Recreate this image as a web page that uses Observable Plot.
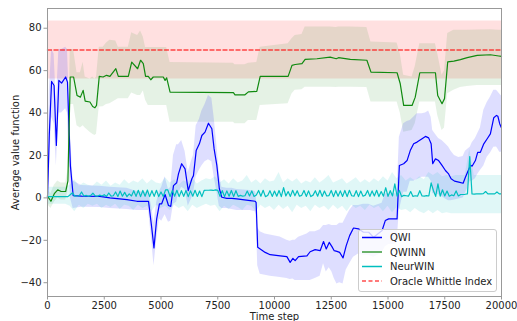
<!DOCTYPE html>
<html>
<head>
<meta charset="utf-8">
<script src="https://cdn.jsdelivr.net/npm/d3@7"></script>
<script src="https://cdn.jsdelivr.net/npm/@observablehq/plot@0.6"></script>
<style>
  html, body { margin: 0; padding: 0; background: #fff; }
  #chart { width: 517px; height: 321px; position: relative; }
</style>
</head>
<body>
<div id="chart"></div>
<script>
// ---------------- data ----------------
const seriesNames = ["QWI", "QWINN", "NeurWIN", "Oracle Whittle Index"];
const xTicks = [0, 2500, 5000, 7500, 10000, 12500, 15000, 17500, 20000];
const yTicks = [-40, -20, 0, 20, 40, 60, 80];

// QWI (blue)
const qwiX  = [0,80,180,290,390,500,620,800,880,940,1010,1130,1500,2300,2750,3500,3940,4450,4590,4690,4810,4930,5030,5180,5330,5430,5550,5690,5770,5910,6060,6200,6360,6430,6550,6690,6800,6940,7090,7240,7340,7460,7570,7680,7900,8120,8340,8930,9150,9190,9260,9370,9590,9810,10250,10545,10690,10810,10910,11060,11430,11570,11790,12010,12160,12280,12410,12530,12630,12750,12870,13020,13160,13310,13480,13700,13920,14150,14370,14740,14880,15030,15250,15400,15500,15690,15840,15980,16130,16280,16500,16650,16790,16900,16970,17090,17230,17380,17530,17670,17780,17930,18120,18310,18410,18630,18710,18850,18950,19070,19220,19370,19510,19660,19780,19840,19920,20000];
const qwiY  = [0.3,30,54.9,53,24.7,55.4,54.1,57,54.6,35,15,1.1,0.8,0.7,0,-0.8,-1.6,-1.6,-13.9,-23.6,-9.9,-2.8,-2.8,1.6,-3.6,-4,5.8,7.1,11.3,16.1,13.7,3.4,9,10.5,22.3,25.5,29.4,31,35.2,32.6,23.1,15.3,4.3,0.3,-0.2,-0.2,-0.5,-1.3,-1.6,-2.1,-23.3,-24.1,-25.7,-26.8,-27.3,-27.7,-30.4,-28.5,-29.6,-27.7,-27.3,-25.4,-24.4,-24.9,-20.6,-24.1,-21,-23,-24.9,-25.2,-25.7,-28.3,-22.5,-17.8,-14.2,-14.6,-16.2,-16.2,-18.6,-15.4,-10.7,-9.9,-9.9,-9.9,15.3,16.1,17.6,22.3,25.5,26.3,27.9,29,28.3,25.5,16.1,18.4,17.6,15.3,12.9,11.3,9,7.9,7.4,6.9,9.7,15.3,15,17.6,21.5,21.5,25.5,27.9,30.2,37.8,38.9,38.5,35,33];
const qwiLo = [-3,10,38,35,15,40,40,42,40,18,0,-5,-4.4,-4.5,-5,-5.5,-6,-6,-20,-32,-20,-10,-11,-8,-11.5,-11,-3,-2,2,5,4,-4,0,2,10,13,15,17,18,17,10,3,-4,-5,-5,-5.5,-6,-6,-6.5,-8,-32,-36,-36.5,-37,-37.5,-38,-38.5,-38.3,-39,-39,-39,-39,-38,-37,-31,-35,-33,-35,-38,-40.6,-40,-40.6,-34,-31,-28,-26.5,-27,-27,-28,-26,-23,-22,-22,-21,-6,2.6,2.6,7.9,7.9,8.5,9.7,9.7,9.7,8,1.9,1.9,1.5,0.5,-0.5,-1.3,-1.3,-1,-0.5,0,2,7.9,7.9,9,11,12.9,15,19.2,21,23.9,24,23,21.5,21.5];
const qwiHi = [5,50,70,68,45,70,70,71,70,52,30,8,5.8,5.5,5,4.5,3,2.5,-4,-12,-2,3,5,10,4,5,20,25,25,27,22,12,18,20,34,37,41,44,48.3,47,38,25,12,5,4.5,4.5,4,3.5,3,2,-14,-16,-17,-17.5,-18.5,-20,-20.5,-20,-20,-18.6,-17,-16,-16,-15,-13,-13,-12.5,-13,-13,-13,-12,-12,-9,-6,-3.6,-3.6,-3,-3,-4,-2.5,1.9,2,2,2,28.6,35,36,36.5,38,39.7,39.7,40,41,38,31.8,30,28,27,25.5,24,22,20,19,19.5,22,24,26,28,30.2,33,41.3,45,47.5,50.7,50.7,50,49,48];

// QWINN (green)
const qwinnX  = [0,150,300,450,600,800,900,1000,1150,1300,1450,1570,1660,1870,1990,2090,2160,2280,2450,2600,2750,3010,3120,3560,3710,3970,4100,4220,4320,4440,4550,4660,5100,5180,5250,5400,8190,8260,8700,8850,9220,9370,10600,10770,10910,11210,11350,11870,12450,12720,12820,13340,14070,14250,15400,15540,15690,16060,16200,16400,17090,17190,17380,17490,17630,17900,18190,18490,18930,19510,19880,20000];
const qwinnY  = [0.8,-1.6,2,3.8,3,3,8,57,57,48.3,47.5,50.7,45.6,45.2,43.1,42.5,43.6,57.3,57,57.8,57.3,60.9,57.3,57.3,64,60.9,64.9,63.3,57.3,57.3,55.7,57,57,55.4,56.6,49.9,49.6,48.6,48.6,50,50.2,57.3,57.3,62.5,62.9,63.3,65.3,65.6,66.4,65.6,66.1,65.3,64.9,59.3,59,53.8,43.6,43.6,47.5,59,59,48.3,44.4,46.8,64.1,64.5,65.2,66.1,67.2,67.5,66.9,66.7];
const qwinnLo = [-3,-5,-2,0,-1,-1,3,44,44,34,33,34,33,31,30,29.4,30,42.8,43,44,44.4,46,46.8,46.8,49.4,48.3,48.3,50.4,46,43.6,43.6,43.6,43.6,43.6,43.6,35.7,35.7,35,35,36.5,36.5,43.6,44.4,49,50.7,51,52.2,52.2,52.2,52,52.2,52.2,52,45.2,45.2,40,31,31.8,35,45.2,45.2,38.9,31.8,33,49.1,50.7,52,52.5,53,53,53,53];
const qwinnHi = [4,2,6,8,7,7,13,70,70,59,59,64,57,56,57,56,57,71,71,73,74.3,74,71,71,77.9,76.6,78.7,75.9,70.9,70.9,70.9,70.9,70.9,70.9,70.9,63.8,63.5,62.8,62.8,63.5,63.8,71,72.7,75,76.6,77,80.6,80.6,80.6,80.4,80.6,80.6,80.3,73.5,73,68,57.8,57,62,72.7,72.7,68,57.8,60,77.5,79,79,79,79.2,79.3,79,79];

// NeurWIN (cyan): mean every 100 steps, band every 200 steps
const neurY = [
  0.6,0.6,0.6,0.6,0.6,0.6,0.6,0.6,0.6,0.6,
  1.5,2.4,0.8,0.9,1.0,2.8,0.9,1.2,0.8,1.1,
  2.2,0.9,0.8,1.3,0.9,1.5,0.7,2.3,0.8,1.0,
  2.8,0.6,3.2,0.8,2.6,0.6,1.9,0.9,3.4,0.7,
  3.6,0.6,3.5,0.8,3.7,0.6,3.4,0.7,3.6,0.6,
  2.8,0.7,3.8,3.8,0.6,3.5,0.8,3.6,0.6,3.4,
  0.7,3.5,0.6,3.3,0.8,3.6,0.7,3.2,0.6,3.5,
  3.6,3.6,3.7,3.5,3.8,3.6,0.7,3.4,0.6,3.3,
  0.8,3.5,0.6,3.4,0.7,1.2,0.8,1.0,3.2,0.9,
  3.3,0.7,1.4,3.5,0.8,3.6,0.6,1.1,3.4,0.7,
  3.2,0.8,3.5,0.6,4.8,0.9,3.0,0.7,3.6,1.0,
  3.4,0.8,1.2,3.5,0.7,3.3,0.6,1.3,3.4,0.8,
  3.6,0.7,3.2,0.9,1.1,3.5,0.6,3.4,0.8,3.3,
  0.7,3.5,0.6,3.6,1.0,0.8,3.4,0.6,3.2,0.8,
  1.3,3.5,0.7,3.3,0.9,3.6,0.6,3.0,0.8,4.8,
  0.7,3.4,0.9,6.6,0.8,3.5,0.6,1.2,1.0,0.8,
  3.0,0.7,1.0,0.8,3.4,0.9,0.8,1.1,0.9,7.1,
  3.5,0.7,6.6,0.8,3.8,0.9,3.2,0.8,1.4,1.0,
  3.3,0.9,1.6,1.6,1.7,1.9,19.5,1.9,1.8,1.9,
  1.9,1.9,2.0,3.0,1.9,1.9,1.9,1.9,2.8,1.9,
  1.9
];
const neurHi = [
  5,5,5,5,5, 6,8.5,5.5,7,6, 5.5,7.5,6,8,5.5, 7,6,8.5,6.5,8, 7,9,6.5,8.5,7,
  6.5,9.5,7,8.5,6, 8,7,9,6.5,8, 9,8.5,10,7,8.5, 6.5,9,7,8,10.5, 7,8.5,6.5,9,7.5,
  8,12,7,9,7.5, 9,6.5,8,7,9.5, 7,8.5,10.5,7,8, 9,6.5,8,9.5,7, 8.5,7,9,7.5,10,
  8,12,9,10.5,8, 9.5,8,10,8.5,12, 10.5,12,10,10.5,10, 10.5,10.5,10.5,23,10.5,
  10.5,10.5,10.5,10.5,10.5, 10.5
];
const neurLo = [
  -3,-3,-3,-3,-3, -4,-6.5,-3.5,-5,-3, -4,-3,-5,-3.5,-4.5, -3,-5.5,-3.5,-4,-6, -3.5,-5,-4,-6.5,-3.5,
  -5,-4,-6,-3.5,-5, -4,-6.5,-3.5,-5,-4, -3,-4,-3.5,-6.5,-4, -5.5,-3.5,-4.5,-6,-3.5, -4,-6.5,-3.5,-5,-4,
  -6,-3.5,-5.5,-4,-7, -3.5,-5,-4,-6.5,-3.5, -5,-4,-6,-3.5,-5.5, -4,-6.5,-3.5,-5,-4, -6,-3.5,-5,-4,-6.5,
  -4,-7,-4.5,-6,-5.5, -7,-5,-6.5,-7.5,-6, -7.5,-6,-7.5,-7,-7.5, -7.5,-7.5,-7.5,-7.5,-7.5,
  -7.5,-7.5,-7.5,-7.5,-7.5, -7.5
];

// Oracle Whittle Index (red)
const oracleX  = [0, 20000];
const oracleY  = [69.7, 69.7];
const oracleLo = [56, 56];
const oracleHi = [83.4, 83.4];

// ---------------- tables ----------------
const qwi = qwiX.map((x, i) => ({x, y: qwiY[i], lo: qwiLo[i], hi: qwiHi[i]}));
const qwinn = qwinnX.map((x, i) => ({x, y: qwinnY[i], lo: qwinnLo[i], hi: qwinnHi[i]}));
const neur = neurY.map((y, i) => ({x: i * 100, y}));
const neurBand = neurHi.map((h, i) => ({x: i * 200, lo: neurLo[i], hi: h}));
const oracle = oracleX.map((x, i) => ({x, y: oracleY[i], lo: oracleLo[i], hi: oracleHi[i]}));

const colors = {QWI: "#0000ff", QWINN: "#108a10", NeurWIN: "#00bfbf", Oracle: "#ff0000"};

const chart = Plot.plot({
  width: 517,
  height: 321,
  marginLeft: 47,
  marginRight: 16,
  marginTop: 8,
  marginBottom: 25,
  style: {fontFamily: "DejaVu Sans, sans-serif", fontSize: "10px", color: "#222", background: "#fff"},
  x: {domain: [0, 20000]},
  y: {domain: [-46.5, 89.3]},
  marks: [
    Plot.areaY(oracle, {x: "x", y1: "lo", y2: "hi", fill: colors.Oracle, fillOpacity: 0.12}),
    Plot.areaY(qwinn, {x: "x", y1: "lo", y2: "hi", fill: "#008000", fillOpacity: 0.1}),
    Plot.areaY(qwi, {x: "x", y1: "lo", y2: "hi", fill: colors.QWI, fillOpacity: 0.13}),
    Plot.areaY(neurBand, {x: "x", y1: "lo", y2: "hi", fill: colors.NeurWIN, fillOpacity: 0.12}),
    Plot.lineY(qwi, {x: "x", y: "y", stroke: colors.QWI, strokeWidth: 1.2}),
    Plot.lineY(qwinn, {x: "x", y: "y", stroke: colors.QWINN, strokeWidth: 1.2}),
    Plot.lineY(neur, {x: "x", y: "y", stroke: colors.NeurWIN, strokeWidth: 1.2}),
    Plot.lineY(oracle, {x: "x", y: "y", stroke: colors.Oracle, strokeOpacity: 0.7, strokeWidth: 1.4, strokeDasharray: "4,2.5"}),
    Plot.frame({stroke: "#999"}),
    Plot.axisX({ticks: xTicks, tickFormat: d => String(d), tickSize: 3.5, tickPadding: 2, stroke: "#999",
      label: "Time step", labelAnchor: "center", labelArrow: "none", labelOffset: 23}),
    Plot.axisY({ticks: yTicks, tickFormat: d => d < 0 ? "\u2212" + Math.abs(d) : String(d), tickSize: 3.5, tickPadding: 2.5, stroke: "#999",
      label: "Average value function", labelAnchor: "center", labelArrow: "none", labelOffset: 36})
  ]
});
document.getElementById("chart").appendChild(chart);

// ---------------- legend ----------------
const svg = d3.select(chart);
const lg = svg.append("g")
  .attr("font-family", "DejaVu Sans, sans-serif")
  .attr("font-size", 10)
  .attr("text-anchor", "start");
lg.append("rect").attr("x", 358.5).attr("y", 229.5).attr("width", 138).attr("height", 62)
  .attr("rx", 2.5).attr("fill", "#ffffff").attr("fill-opacity", 0.8).attr("stroke", "#cccccc").attr("stroke-width", 1);
const legendItems = [
  {name: seriesNames[0], color: colors.QWI, dash: "none", op: 1},
  {name: seriesNames[1], color: "#3a9a3a", dash: "none", op: 1},
  {name: seriesNames[2], color: colors.NeurWIN, dash: "none", op: 1},
  {name: seriesNames[3], color: colors.Oracle, dash: "4,2.5", op: 0.7}
];
legendItems.forEach((d, i) => {
  const y = 237.5 + i * 14.5;
  lg.append("line").attr("x1", 362).attr("x2", 382).attr("y1", y).attr("y2", y)
    .attr("stroke", d.color).attr("stroke-width", 1.5).attr("stroke-opacity", d.op)
    .attr("stroke-dasharray", d.dash);
  lg.append("text").attr("x", 390).attr("y", y + 3.6).attr("fill", "#222").attr("text-anchor", "start").text(d.name);
});
</script>
</body>
</html>
